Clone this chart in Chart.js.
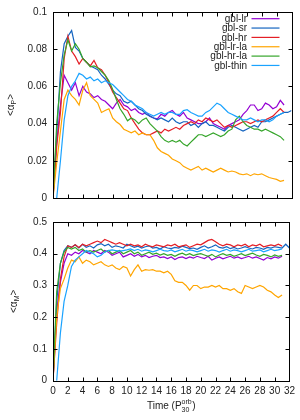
<!DOCTYPE html>
<html>
<head>
<meta charset="utf-8">
<script src="https://cdn.jsdelivr.net/npm/chart.js@4/dist/chart.umd.min.js"></script>
<style>
  html, body { margin: 0; padding: 0; background: #fff; }
  #wrap { position: relative; width: 300px; height: 420px; }
  canvas { position: absolute; left: 0; }
  #topChart { top: 0; }
  #bottomChart { top: 210px; }
</style>
</head>
<body>
<div id="wrap">
  <canvas id="topChart" width="300" height="210"></canvas>
  <canvas id="bottomChart" width="300" height="210"></canvas>
</div>
<script>
// sample times, every 0.5 P_orb
const times = [];
for (let i = 0; i <= 64; i++) times.push(i / 2);

const seriesNames = ['gbl-lr', 'gbl-sr', 'gbl-hr', 'gbl-lr-la', 'gbl-hr-la', 'gbl-thin'];
const seriesColors = ['#9400d3', '#1565c0', '#e41f26', '#ffa500', '#35a52a', '#1aa3ff'];

// <alpha_P>  (top panel)
const alphaP_lr = [
  0, 0.03, 0.05, 0.066, 0.062, 0.058, 0.062, 0.055, 0.06, 0.057,
  0.056, 0.054, 0.055, 0.053, 0.052, 0.05, 0.048, 0.051, 0.053, 0.05,
  0.049, 0.047, 0.048, 0.046, 0.045, 0.046, 0.044, 0.043, 0.0425, 0.045,
  0.044, 0.046, 0.047, 0.045, 0.044, 0.046, 0.043, 0.042, 0.041, 0.04,
  0.04, 0.041, 0.043, 0.04, 0.039, 0.038, 0.037, 0.039, 0.04, 0.041,
  0.042, 0.045, 0.047, 0.05, 0.05, 0.047, 0.048, 0.051, 0.05, 0.048,
  0.049, 0.0525, 0.05
];
const alphaP_sr = [
  0, 0.035, 0.068, 0.083, 0.087, 0.09, 0.081, 0.079, 0.075, 0.073,
  0.071, 0.07, 0.069, 0.066, 0.064, 0.061, 0.058, 0.056, 0.055, 0.052,
  0.051, 0.052, 0.05, 0.048, 0.047, 0.045, 0.044, 0.043, 0.042, 0.043,
  0.042, 0.041, 0.043, 0.041, 0.04, 0.041, 0.041, 0.039, 0.04, 0.038,
  0.04, 0.041, 0.039, 0.039, 0.038, 0.037, 0.036, 0.038, 0.039, 0.038,
  0.037, 0.036, 0.037, 0.038, 0.039, 0.038, 0.041, 0.041, 0.042, 0.043,
  0.044, 0.045, 0.046, 0.046, 0.047
];
const alphaP_hr = [
  0, 0.028, 0.046, 0.075, 0.087, 0.079, 0.076, 0.072, 0.075, 0.073,
  0.071, 0.074, 0.07, 0.069, 0.066, 0.062, 0.057, 0.054, 0.051, 0.048,
  0.047, 0.043, 0.04, 0.037, 0.035, 0.034, 0.034, 0.035, 0.036, 0.035,
  0.037, 0.036, 0.037, 0.038, 0.037, 0.039, 0.04, 0.041, 0.04, 0.042,
  0.041, 0.043, 0.042, 0.041, 0.042, 0.04, 0.038, 0.039, 0.038, 0.039,
  0.04, 0.041, 0.041, 0.04, 0.041, 0.042, 0.041, 0.042, 0.043, 0.044,
  0.046, 0.048, 0.046
];
const alphaP_lrla = [
  0, 0.019, 0.036, 0.053, 0.058, 0.055, 0.053, 0.05, 0.058, 0.062,
  0.055, 0.053, 0.051, 0.046, 0.047, 0.048, 0.043, 0.041, 0.0395, 0.037,
  0.036, 0.035, 0.036, 0.034, 0.035, 0.034, 0.034, 0.031, 0.027, 0.025,
  0.024, 0.023, 0.021, 0.02, 0.019, 0.017, 0.016, 0.015, 0.016, 0.017,
  0.015, 0.016, 0.015, 0.014, 0.015, 0.016, 0.015, 0.014, 0.0145, 0.014,
  0.013, 0.0125, 0.013, 0.012, 0.013, 0.0125, 0.013, 0.012, 0.011, 0.0105,
  0.01, 0.009, 0.0095
];
const alphaP_hrla = [
  0, 0.04, 0.062, 0.077, 0.085, 0.079, 0.083, 0.08, 0.075, 0.073,
  0.0705, 0.071, 0.07, 0.068, 0.066, 0.063, 0.0585, 0.053, 0.048, 0.045,
  0.0415, 0.043, 0.042, 0.04, 0.042, 0.043, 0.04, 0.038, 0.036, 0.033,
  0.031, 0.03, 0.031, 0.03, 0.031, 0.029, 0.028, 0.03, 0.032, 0.034,
  0.034, 0.033, 0.034, 0.035, 0.034, 0.033, 0.034, 0.036, 0.037, 0.042,
  0.044, 0.041, 0.039, 0.038, 0.037, 0.037, 0.036, 0.037, 0.036, 0.035,
  0.034, 0.033, 0.031
];
const alphaP_thin = [
  null, 0, 0.02, 0.042, 0.055, 0.06, 0.063, 0.067, 0.066, 0.064,
  0.065, 0.063, 0.064, 0.062, 0.063, 0.062, 0.061, 0.059, 0.057, 0.055,
  0.053, 0.052, 0.05, 0.049, 0.048, 0.046, 0.045, 0.044, 0.045, 0.046,
  0.045, 0.046, 0.046, 0.045, 0.045, 0.047, 0.0475, 0.046, 0.045, 0.044,
  0.044, 0.046, 0.047, 0.049, 0.051, 0.05, 0.048, 0.046, 0.045, 0.044,
  0.043, 0.042, 0.042, 0.043, 0.042, 0.041, 0.042, 0.042, 0.041, 0.042,
  0.044, 0.045, 0.046
];

// <alpha_M>  (bottom panel)
const alphaM_lr = [
  0, 0.22, 0.31, 0.37, 0.4, 0.395, 0.405, 0.4, 0.41, 0.405,
  0.4, 0.41, 0.405, 0.4, 0.41, 0.405, 0.395, 0.4, 0.405, 0.39,
  0.395, 0.4, 0.392, 0.398, 0.39, 0.395, 0.388, 0.392, 0.395, 0.388,
  0.39, 0.385, 0.39, 0.382, 0.388, 0.39, 0.385, 0.39, 0.386, 0.392,
  0.388, 0.385, 0.392, 0.38, 0.386, 0.39, 0.384, 0.388, 0.392, 0.386,
  0.39, 0.385, 0.388, 0.392, 0.386, 0.39, 0.385, 0.38, 0.388, 0.384,
  0.39, 0.386, 0.392
];
const alphaM_sr = [
  0, 0.25, 0.37, 0.41, 0.425, 0.42, 0.428, 0.418, 0.43, 0.42,
  0.425, 0.418, 0.428, 0.432, 0.425, 0.43, 0.42, 0.425, 0.422, 0.418,
  0.43, 0.425, 0.42, 0.424, 0.418, 0.422, 0.425, 0.418, 0.42, 0.415,
  0.422, 0.418, 0.416, 0.42, 0.418, 0.424, 0.42, 0.416, 0.418, 0.414,
  0.42, 0.425, 0.418, 0.422, 0.428, 0.42, 0.418, 0.422, 0.416, 0.42,
  0.415, 0.418, 0.422, 0.418, 0.415, 0.42, 0.418, 0.414, 0.42, 0.418,
  0.422, 0.42, 0.418, 0.43, 0.418
];
const alphaM_hr = [
  0, 0.18, 0.32, 0.39, 0.425, 0.42, 0.428, 0.42, 0.43, 0.425,
  0.43, 0.435, 0.44, 0.435, 0.445, 0.44, 0.435, 0.43, 0.435, 0.43,
  0.425, 0.43, 0.425, 0.428, 0.422, 0.43, 0.425, 0.422, 0.428, 0.425,
  0.422, 0.428, 0.425, 0.43, 0.422, 0.425, 0.428, 0.42, 0.425, 0.43,
  0.428, 0.435, 0.442, 0.445, 0.438, 0.43, 0.425, 0.43, 0.428, 0.422,
  0.428, 0.425, 0.43, 0.422, 0.428, 0.425, 0.43, 0.422, 0.425, 0.428,
  0.425, 0.43, 0.424
];
const alphaM_lrla = [
  0, 0.2, 0.29, 0.32, 0.355, 0.38, 0.375, 0.39, 0.37, 0.38,
  0.375, 0.365, 0.37, 0.375, 0.365, 0.36, 0.365, 0.355, 0.35, 0.36,
  0.355, 0.33, 0.35, 0.365, 0.345, 0.35, 0.348, 0.35, 0.345, 0.345,
  0.34, 0.345, 0.335, 0.315, 0.31, 0.31, 0.3, 0.285, 0.3, 0.3,
  0.29, 0.295, 0.295, 0.3, 0.295, 0.3, 0.29, 0.29, 0.285, 0.29,
  0.28, 0.275, 0.3, 0.295, 0.29, 0.295, 0.3, 0.295, 0.285, 0.28,
  0.27, 0.262, 0.27
];
const alphaM_hrla = [
  0, 0.28, 0.37, 0.405, 0.42, 0.415, 0.42, 0.41, 0.415, 0.405,
  0.41, 0.405, 0.41, 0.415, 0.405, 0.41, 0.4, 0.405, 0.41, 0.4,
  0.405, 0.41, 0.4, 0.405, 0.395, 0.4, 0.405, 0.398, 0.402, 0.396,
  0.4, 0.395, 0.398, 0.392, 0.398, 0.402, 0.396, 0.4, 0.394, 0.398,
  0.4, 0.396, 0.392, 0.398, 0.39, 0.396, 0.4, 0.395, 0.398, 0.392,
  0.396, 0.4, 0.394, 0.398, 0.402, 0.396, 0.392, 0.398, 0.395, 0.39,
  0.396, 0.392, 0.395
];
const alphaM_thin = [
  null, 0, 0.15, 0.25, 0.3, 0.36, 0.38, 0.39, 0.4, 0.41,
  0.405, 0.4, 0.39, 0.395, 0.405, 0.41, 0.412, 0.41, 0.408, 0.41,
  0.412, 0.415, 0.41, 0.414, 0.408, 0.412, 0.41, 0.406, 0.41, 0.414,
  0.41, 0.408, 0.412, 0.406, 0.41, 0.414, 0.408, 0.412, 0.41, 0.406,
  0.41, 0.414, 0.408, 0.412, 0.41, 0.405, 0.41, 0.414, 0.408, 0.412,
  0.41, 0.406, 0.41, 0.414, 0.408, 0.41, 0.412, 0.406, 0.41, 0.414,
  0.41, 0.412, 0.415
];

const FONT_FAMILY = '"Liberation Sans", Arial, sans-serif';
const TEXT_COLOR = '#222';

function toPoints(values) {
  return values.map((v, i) => ({ x: times[i], y: v }));
}

function makeDatasets(list) {
  return list.map((vals, i) => ({
    label: seriesNames[i],
    data: toPoints(vals),
    borderColor: seriesColors[i],
    borderWidth: 1.2,
    pointRadius: 0,
    tension: 0,
    fill: false,
    order: list.length - i   // later series drawn on top, like gnuplot
  }));
}

// gnuplot prints 0, 0.02 ... 0.1 without trailing zeros
function plainTick(value) {
  return String(Number(value.toFixed(4)));
}

// draw text pieces with sub/superscripts, centred on (cx, cy)
function drawRich(ctx, pieces, cx, cy, angle) {
  const big = '10px ' + FONT_FAMILY;
  const small = '7px ' + FONT_FAMILY;
  ctx.save();
  ctx.translate(cx, cy);
  ctx.rotate(angle);
  ctx.fillStyle = TEXT_COLOR;
  ctx.textBaseline = 'alphabetic';
  ctx.textAlign = 'left';
  const widths = pieces.map(p => {
    if (p.sup !== undefined) {
      ctx.font = small;
      return Math.max(ctx.measureText(p.sup).width, ctx.measureText(p.sub).width) + 0.5;
    }
    ctx.font = p.sub ? small : big;
    return ctx.measureText(p.t).width;
  });
  let x = -widths.reduce((a, b) => a + b, 0) / 2;
  const base = 3.5;
  pieces.forEach((p, i) => {
    if (p.sup !== undefined) {
      ctx.font = small;
      ctx.fillText(p.sup, x, base - 5);
      ctx.fillText(p.sub, x, base + 3);
    } else if (p.sub) {
      ctx.font = small;
      ctx.fillText(p.t, x, base + 2.5);
    } else {
      ctx.font = big;
      ctx.fillText(p.t, x, base);
    }
    x += widths[i];
  });
  ctx.restore();
}

// frame around the plot plus inward ticks on all four sides
const frameTicks = {
  id: 'frameTicks',
  afterDatasetsDraw(chart) {
    const { ctx, chartArea: a, scales } = chart;
    const L = Math.round(a.left) + 0.5, R = Math.round(a.right) + 0.5;
    const T = Math.round(a.top) + 0.5, B = Math.round(a.bottom) + 0.5;
    const len = 4;
    ctx.save();
    ctx.strokeStyle = '#000';
    ctx.lineWidth = 1;
    ctx.beginPath();
    scales.x.ticks.forEach(t => {
      const px = Math.round(scales.x.getPixelForValue(t.value)) + 0.5;
      ctx.moveTo(px, B); ctx.lineTo(px, B - len);
      ctx.moveTo(px, T); ctx.lineTo(px, T + len);
    });
    scales.y.ticks.forEach(t => {
      const py = Math.round(scales.y.getPixelForValue(t.value)) + 0.5;
      ctx.moveTo(L, py); ctx.lineTo(L + len, py);
      ctx.moveTo(R, py); ctx.lineTo(R - len, py);
    });
    ctx.stroke();
    ctx.strokeRect(L, T, R - L, B - T);
    ctx.restore();
  }
};

// gnuplot style key: right-aligned names, line sample after them
const keyPlugin = {
  id: 'keyPlugin',
  afterDraw(chart) {
    const { ctx } = chart;
    ctx.save();
    ctx.font = '10px ' + FONT_FAMILY;
    ctx.textAlign = 'right';
    ctx.textBaseline = 'middle';
    seriesNames.forEach((name, i) => {
      const y = 18.7 + i * 9.35;
      ctx.fillStyle = TEXT_COLOR;
      ctx.fillText(name, 247, y + 0.5);
      ctx.strokeStyle = seriesColors[i];
      ctx.lineWidth = 1.2;
      ctx.beginPath();
      ctx.moveTo(251.5, y);
      ctx.lineTo(279.5, y);
      ctx.stroke();
    });
    ctx.restore();
  }
};

function axisTitles(yPieces, yLabelX, xPieces, xLabelY) {
  return {
    id: 'axisTitles',
    afterDraw(chart) {
      const a = chart.chartArea;
      drawRich(chart.ctx, yPieces, yLabelX, (a.top + a.bottom) / 2, -Math.PI / 2);
      if (xPieces) drawRich(chart.ctx, xPieces, (a.left + a.right) / 2, xLabelY, 0);
    }
  };
}

function makePanel(id, seriesList, yMax, yStep, showXLabels, padding, xHeight, plugins) {
  return new Chart(document.getElementById(id), {
    type: 'line',
    data: { datasets: makeDatasets(seriesList) },
    options: {
      responsive: false,
      animation: false,
      devicePixelRatio: 1,
      layout: { padding: padding },
      plugins: { legend: { display: false }, tooltip: { enabled: false } },
      scales: {
        x: {
          type: 'linear',
          min: 0,
          max: 32,
          grid: { display: false, drawTicks: false },
          border: { display: false },
          ticks: {
            display: showXLabels,
            stepSize: 2,
            autoSkip: false,
            maxRotation: 0,
            padding: 5,
            color: TEXT_COLOR,
            font: { family: FONT_FAMILY, size: 10 },
            callback: plainTick
          },
          afterFit: s => { s.height = xHeight; }
        },
        y: {
          min: 0,
          max: yMax,
          grid: { display: false, drawTicks: false },
          border: { display: false },
          ticks: {
            stepSize: yStep,
            padding: 6,
            color: TEXT_COLOR,
            font: { family: FONT_FAMILY, size: 10 },
            callback: plainTick
          },
          afterFit: s => { s.width = 53; }
        }
      }
    },
    plugins: plugins
  });
}

makePanel('topChart',
  [alphaP_lr, alphaP_sr, alphaP_hr, alphaP_lrla, alphaP_hrla, alphaP_thin],
  0.1, 0.02, false,
  { left: 0, right: 8.5, top: 9.5, bottom: 6 }, 0,
  [frameTicks, keyPlugin,
   axisTitles([{ t: '<α' }, { t: 'P', sub: true }, { t: '>' }], 10, null, 0)]);

makePanel('bottomChart',
  [alphaM_lr, alphaM_sr, alphaM_hr, alphaM_lrla, alphaM_hrla, alphaM_thin],
  0.5, 0.1, true,
  { left: 0, right: 8.5, top: 5, bottom: 0 }, 39.3,
  [frameTicks,
   axisTitles([{ t: '<α' }, { t: 'M', sub: true }, { t: '>' }], 13,
              [{ t: 'Time (P' }, { sup: 'orb', sub: '30' }, { t: ')' }], 195)]);
</script>
</body>
</html>
